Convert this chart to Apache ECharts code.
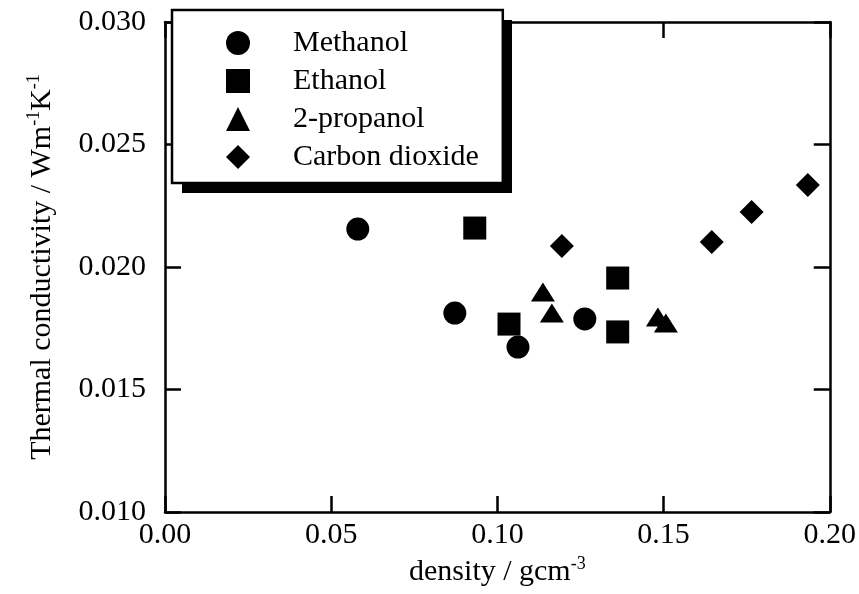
<!DOCTYPE html>
<html>
<head>
<meta charset="utf-8">
<script src="https://cdn.jsdelivr.net/npm/echarts@6/dist/echarts.min.js"></script>
<style>
html,body{margin:0;padding:0;background:#fff;}
#c{width:859px;height:594px;}
</style>
</head>
<body>
<div id="c"></div>
<script>
// density (g cm^-3), thermal conductivity (W m^-1 K^-1)
var methanolX = [0.0580, 0.0872, 0.1062, 0.1263];
var methanolY = [0.02155, 0.01812, 0.01673, 0.01788];
var ethanolX = [0.0932, 0.1362, 0.1035, 0.1362];
var ethanolY = [0.02159, 0.01955, 0.01767, 0.01735];
var propanolX = [0.1137, 0.1164, 0.1483, 0.1507];
var propanolY = [0.01898, 0.01812, 0.01796, 0.01771];
var co2X = [0.1194, 0.1645, 0.1765, 0.1934];
var co2Y = [0.02086, 0.02102, 0.02224, 0.02335];
var seriesNames = ['Methanol', 'Ethanol', '2-propanol', 'Carbon dioxide'];
var xTicks = [0.00, 0.05, 0.10, 0.15, 0.20];
var yTicks = [0.010, 0.015, 0.020, 0.025, 0.030];

function pairs(xs, ys) { return xs.map(function (x, i) { return [x, ys[i]]; }); }

var FONT = 'Liberation Serif';
var chart = echarts.init(document.getElementById('c'), null, {renderer: 'canvas'});
var axisLine = {show: true, onZero: false, lineStyle: {color: '#000', width: 2.5}};
var axisTick = {show: true, inside: true, length: 16, lineStyle: {color: '#000', width: 2.5}};
var labelStyle = {color: '#000', fontFamily: FONT, fontSize: 30};
var markStyle = {color: '#000', opacity: 1};

chart.setOption({
  backgroundColor: '#fff',
  animation: false,
  grid: {left: 165, right: 29, top: 22, bottom: 82, containLabel: false},
  graphic: [{
    type: 'rect', z: 9, silent: true,
    shape: {x: 182, y: 20, width: 330, height: 173},
    style: {fill: '#000'}
  }],
  legend: {
    orient: 'vertical',
    left: 172, top: 10,
    padding: [18, 24, 11, 54],
    itemWidth: 24, itemHeight: 24, itemGap: 8,
    backgroundColor: '#fff',
    borderColor: '#000', borderWidth: 2.5,
    textStyle: {color: '#000', fontFamily: FONT, fontSize: 30, lineHeight: 30, padding: [0, 0, 0, 38]},
    data: seriesNames,
    z: 10
  },
  xAxis: [{
    type: 'value', position: 'bottom', min: 0, max: 0.2, interval: 0.05,
    axisLine: axisLine, axisTick: axisTick, splitLine: {show: false},
    axisLabel: Object.assign({margin: 8, formatter: function (v) { return v.toFixed(2); }}, labelStyle),
    name: 'density / gcm{s|-3}', nameLocation: 'middle', nameGap: 43,
    nameTextStyle: {color: '#000', fontFamily: FONT, fontSize: 30, lineHeight: 34,
      rich: {s: {fontFamily: FONT, fontSize: 18, lineHeight: 18, verticalAlign: 'top', color: '#000'}}}
  }, {
    type: 'value', position: 'top', min: 0, max: 0.2, interval: 0.05,
    axisLine: axisLine, axisTick: axisTick, splitLine: {show: false}, axisLabel: {show: false}
  }],
  yAxis: [{
    type: 'value', position: 'left', min: 0.010, max: 0.030, interval: 0.005,
    axisLine: axisLine, axisTick: axisTick, splitLine: {show: false},
    axisLabel: Object.assign({margin: 19, formatter: function (v) { return v.toFixed(3); }}, labelStyle),
    name: 'Thermal conductivity / Wm{s|-1}K{s|-1}', nameLocation: 'middle', nameGap: 106,
    nameTextStyle: {color: '#000', fontFamily: FONT, fontSize: 30, lineHeight: 34,
      rich: {s: {fontFamily: FONT, fontSize: 18, lineHeight: 18, verticalAlign: 'top', color: '#000'}}}
  }, {
    type: 'value', position: 'right', min: 0.010, max: 0.030, interval: 0.005,
    axisLine: axisLine, axisTick: axisTick, splitLine: {show: false}, axisLabel: {show: false}
  }],
  series: [
    {name: seriesNames[0], type: 'scatter', symbol: 'circle', symbolSize: 23,
     itemStyle: markStyle, data: pairs(methanolX, methanolY)},
    {name: seriesNames[1], type: 'scatter', symbol: 'rect', symbolSize: 23,
     itemStyle: markStyle, data: pairs(ethanolX, ethanolY)},
    {name: seriesNames[2], type: 'scatter', symbol: 'triangle', symbolSize: [24, 19],
     itemStyle: markStyle, data: pairs(propanolX, propanolY)},
    {name: seriesNames[3], type: 'scatter', symbol: 'diamond', symbolSize: 24,
     itemStyle: markStyle, data: pairs(co2X, co2Y)}
  ]
});
</script>
</body>
</html>
